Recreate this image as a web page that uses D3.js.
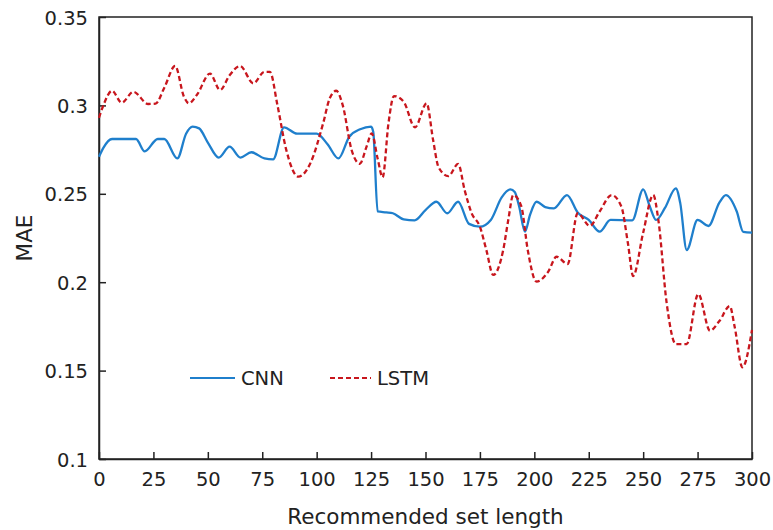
<!DOCTYPE html>
<html>
<head>
<meta charset="utf-8">
<script src="https://cdn.jsdelivr.net/npm/d3@7"></script>
<style>
  body { margin: 0; background: #fff; }
  text { font-family: Verdana, "DejaVu Sans", sans-serif; fill: #222; }
  .axis path, .axis line { stroke: #222; stroke-width: 1.5; }
</style>
</head>
<body>
<div id="graphic"></div>
<script>
const WIDTH = 773;
const HEIGHT = 530;
const MARGIN = { top: 17, right: 21, bottom: 71, left: 99 };

const X_TICKS = [0, 25, 50, 75, 100, 125, 150, 175, 200, 225, 250, 275, 300];
const Y_TICKS = [0.1, 0.15, 0.2, 0.25, 0.3, 0.35];
const Y_TICK_LABELS = ["0.1", "0.15", "0.2", "0.25", "0.3", "0.35"];

const CNN_X = [0, 2, 6, 12, 17, 21, 27, 30, 36, 40, 43, 46, 50, 55, 60, 65, 70, 76, 80, 85,
  91, 100, 105, 110, 115, 120, 125, 126, 128, 132, 135, 140, 145, 150, 155, 160, 165, 170, 175, 180,
  185, 189, 191, 193, 195.7, 198, 201, 205, 209, 215, 220, 225, 230, 235, 245, 250, 253, 256, 260, 265,
  267, 270, 275, 280, 285, 288, 293, 296, 300];
const CNN_MAE = [0.271, 0.276, 0.281, 0.281, 0.281, 0.274, 0.281, 0.281, 0.270, 0.284, 0.288, 0.287, 0.279, 0.2705, 0.2767, 0.2705, 0.2735, 0.270, 0.2695, 0.2876,
  0.284, 0.284, 0.278, 0.270, 0.2823, 0.2865, 0.288, 0.285, 0.240, 0.2395, 0.239, 0.2355, 0.235, 0.2408, 0.2455, 0.239, 0.2455, 0.233, 0.2314, 0.2352,
  0.248, 0.2525, 0.251, 0.243, 0.2286, 0.238, 0.2455, 0.2425, 0.2418, 0.2493, 0.2393, 0.2352, 0.2286, 0.2352, 0.235, 0.2525, 0.243, 0.2352, 0.242, 0.2531,
  0.245, 0.2182, 0.2352, 0.2318, 0.245, 0.2493, 0.240, 0.2284, 0.228];

const LSTM_X = [0, 2, 6, 10.4, 15.8, 22.6, 26, 30, 35, 39, 41.3, 45, 51, 55.6, 60, 64.8, 70.9, 76, 78.5, 82,
  86, 91.6, 97, 103, 106, 109, 112, 116, 119.8, 123, 125.3, 128, 130.3, 133, 135.5, 140, 145.2, 150.5, 153.5, 156,
  160.5, 165, 168, 171.2, 175, 178, 181.1, 185.7, 188, 190.3, 194, 197, 201, 206.4, 210.2, 215.3, 219.9, 225.5, 230, 235.5,
  240, 243, 245.4, 250, 254.6, 257, 260.8, 265, 270, 275.3, 280.7, 285, 289.8, 292, 295.6, 300];
const LSTM_MAE = [0.293, 0.300, 0.3083, 0.3015, 0.3077, 0.3008, 0.301, 0.310, 0.3223, 0.305, 0.3012, 0.306, 0.318, 0.3087, 0.317, 0.3223, 0.3125, 0.319, 0.319, 0.300,
  0.275, 0.2597, 0.267, 0.290, 0.304, 0.3083, 0.300, 0.275, 0.267, 0.277, 0.2842, 0.270, 0.2593, 0.290, 0.3053, 0.302, 0.2876, 0.3012, 0.2804, 0.265,
  0.260, 0.2669, 0.252, 0.239, 0.2314, 0.218, 0.2041, 0.2182, 0.235, 0.2493, 0.243, 0.218, 0.2003, 0.206, 0.2144, 0.2103, 0.239, 0.2318, 0.240, 0.2493,
  0.2427, 0.222, 0.2035, 0.228, 0.2493, 0.235, 0.1881, 0.165, 0.165, 0.1933, 0.1726, 0.178, 0.1865, 0.175, 0.1519, 0.173];

const SERIES = [
  { name: "CNN", xs: CNN_X, ys: CNN_MAE, color: "#1f7fcc", dash: null },
  { name: "LSTM", xs: LSTM_X, ys: LSTM_MAE, color: "#c8161d", dash: "5,3" }
];

var svg = d3.select("#graphic")
  .append("svg")
  .attr("width", WIDTH)
  .attr("height", HEIGHT);

var xScale = d3.scaleLinear()
  .domain([0, 300])
  .range([MARGIN.left, WIDTH - MARGIN.right]);

var yScale = d3.scaleLinear()
  .domain([0.1, 0.35])
  .range([HEIGHT - MARGIN.bottom, MARGIN.top]);

// frame
svg.append("rect")
  .attr("x", xScale(0))
  .attr("y", yScale(0.35))
  .attr("width", xScale(300) - xScale(0))
  .attr("height", yScale(0.1) - yScale(0.35))
  .attr("fill", "none")
  .attr("stroke", "#222")
  .attr("stroke-width", 1.5);

var xAxisDef = d3.axisBottom(xScale)
  .tickValues(X_TICKS)
  .tickSizeInner(-7)
  .tickSizeOuter(0)
  .tickPadding(13);

var yAxisDef = d3.axisLeft(yScale)
  .tickValues(Y_TICKS)
  .tickFormat((d, i) => Y_TICK_LABELS[i])
  .tickSizeInner(-7)
  .tickSizeOuter(0)
  .tickPadding(11);

var xAxis = svg.append("g")
  .attr("class", "axis")
  .attr("transform", `translate(0, ${yScale(0.1)})`)
  .call(xAxisDef);

var yAxis = svg.append("g")
  .attr("class", "axis")
  .attr("transform", `translate(${xScale(0)}, 0)`)
  .call(yAxisDef);

svg.selectAll(".axis text")
  .style("font-size", "19.5px")
  .attr("fill", "#222");
yAxis.selectAll("text").attr("dy", "0.36em");

svg.append("text")
  .attr("x", (xScale(0) + xScale(300)) / 2)
  .attr("y", 524)
  .attr("text-anchor", "middle")
  .style("font-size", "21.5px")
  .text("Recommended set length");

svg.append("text")
  .attr("transform", `translate(32, ${(yScale(0.1) + yScale(0.35)) / 2}) rotate(-90)`)
  .attr("text-anchor", "middle")
  .style("font-size", "21.5px")
  .text("MAE");

var line = d3.line()
  .x(d => xScale(d[0]))
  .y(d => yScale(d[1]))
  .curve(d3.curveMonotoneX);

SERIES.forEach(s => {
  var pts = s.xs.map((x, i) => [x, s.ys[i]]);
  svg.append("path")
    .datum(pts)
    .attr("fill", "none")
    .attr("stroke", s.color)
    .attr("stroke-width", 2.3)
    .attr("stroke-dasharray", s.dash)
    .attr("d", line);
});

// legend
var legend = svg.append("g");
var legendPos = [{ x: 190, w: 45 }, { x: 330, w: 41 }];
SERIES.forEach((s, i) => {
  var p = legendPos[i];
  legend.append("line")
    .attr("x1", p.x).attr("x2", p.x + p.w)
    .attr("y1", 378).attr("y2", 378)
    .attr("stroke", s.color)
    .attr("stroke-width", 2.2)
    .attr("stroke-dasharray", s.dash);
  legend.append("text")
    .attr("x", p.x + p.w + 6)
    .attr("y", 385)
    .style("font-size", "19.5px")
    .text(s.name);
});
</script>
</body>
</html>
